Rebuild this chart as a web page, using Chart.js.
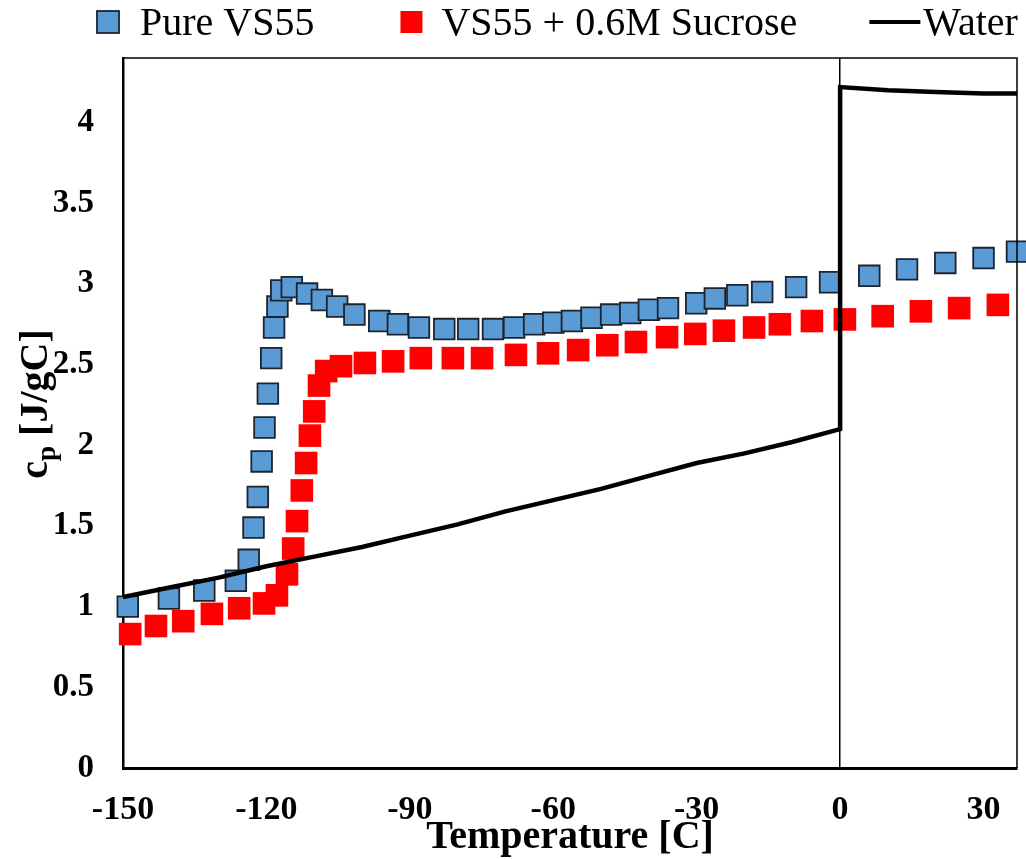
<!DOCTYPE html>
<html><head><meta charset="utf-8">
<script src="https://cdn.jsdelivr.net/npm/chart.js@4.4.0/dist/chart.umd.min.js"></script>
<style>html,body{margin:0;padding:0;background:#fff;}#wrap{width:1026px;height:859px;}</style>
</head><body><div id="wrap"><canvas id="c" width="1026" height="859"></canvas></div>
<script>
const seriesNames = ['Pure VS55', 'VS55 + 0.6M Sucrose', 'Water'];
const pureX = [-149,-140.4,-133,-126.4,-123.7,-122.7,-121.8,-121,-120.4,-119.7,-119,-118.4,-117.7,-116.9,-114.7,-111.5,-108.4,-105.2,-101.6,-96.4,-92.5,-88.1,-82.8,-77.8,-72.6,-68.2,-64,-60,-56.1,-52,-47.9,-43.9,-40,-36,-30.1,-26.2,-21.5,-16.3,-9.2,-2.1,6.1,14,22,30,37];
const pureY = [1.00,1.05,1.10,1.16,1.29,1.49,1.68,1.90,2.11,2.32,2.54,2.73,2.86,2.96,2.98,2.94,2.90,2.86,2.81,2.77,2.75,2.73,2.72,2.72,2.72,2.73,2.75,2.76,2.77,2.79,2.81,2.82,2.84,2.85,2.88,2.91,2.93,2.95,2.98,3.01,3.05,3.09,3.13,3.16,3.20];
const sucroseX = [-148.5,-143.1,-137.4,-131.4,-125.7,-120.5,-117.8,-115.7,-114.4,-113.6,-112.6,-111.7,-110.9,-110,-109,-107.5,-104.4,-99.4,-93.5,-87.7,-81,-74.9,-67.8,-61.1,-54.8,-48.7,-42.7,-36.2,-30.3,-24.3,-18,-12.6,-5.9,1,8.9,16.9,24.9,33];
const sucroseY = [0.83,0.88,0.91,0.955,0.99,1.02,1.07,1.20,1.36,1.53,1.72,1.89,2.06,2.21,2.37,2.46,2.49,2.51,2.52,2.54,2.54,2.54,2.56,2.57,2.59,2.62,2.64,2.67,2.69,2.71,2.73,2.75,2.77,2.78,2.80,2.83,2.85,2.87];
const waterX = [-150,-140,-130,-120,-110,-100,-90,-80,-70,-60,-50,-40,-30,-20,-10,0,0,10,20,30,37];
const waterY = [1.06,1.12,1.18,1.25,1.31,1.37,1.44,1.51,1.59,1.66,1.73,1.81,1.89,1.95,2.02,2.10,4.22,4.20,4.19,4.18,4.18];
const xTicks = [-150,-120,-90,-60,-30,0,30];
const yTicks = [0,0.5,1,1.5,2,2.5,3,3.5,4];
const xTitle = 'Temperature [C]';
const yTitleMain = 'c', yTitleSub = 'p', yTitleRest = ' [J/gC]';

const FAM = "'Liberation Serif', 'Times New Roman', serif";
const BLUE = '#5B9BD5', BLUE_EDGE = '#1c2430', RED = '#FF0000';

const toPts = (xs, ys) => xs.map((x, i) => ({x, y: ys[i]}));

const extras = {
  id: 'extras',
  afterDraw(chart) {
    const ctx = chart.ctx, a = chart.chartArea;
    ctx.save();
    ctx.strokeStyle = '#000'; ctx.lineWidth = 1.5;
    ctx.beginPath();
    ctx.moveTo(a.left, a.top); ctx.lineTo(a.right, a.top); ctx.lineTo(a.right, a.bottom);
    ctx.stroke();
    // y title with subscript
    ctx.translate(47, 404);
    ctx.rotate(-Math.PI / 2);
    ctx.fillStyle = '#000';
    ctx.textBaseline = 'alphabetic';
    const fMain = 'bold 40px ' + FAM, fSub = 'bold 27px ' + FAM;
    ctx.font = fMain; const w1 = ctx.measureText(yTitleMain).width; const w3 = ctx.measureText(yTitleRest).width;
    ctx.font = fSub; const w2 = ctx.measureText(yTitleSub).width;
    let u = -(w1 + w2 + w3) / 2;
    ctx.font = fMain; ctx.fillText(yTitleMain, u, 0); u += w1;
    ctx.font = fSub; ctx.fillText(yTitleSub, u, 8); u += w2;
    ctx.font = fMain; ctx.fillText(yTitleRest, u, 0);
    ctx.restore();
    // legend
    ctx.save();
    ctx.font = '40px ' + FAM;
    ctx.textBaseline = 'alphabetic';
    const ds = chart.data.datasets;
    const cy = 22, base = 35;
    let x = 97;
    ctx.fillStyle = ds[0].pointBackgroundColor;
    ctx.fillRect(x, cy - 11, 22, 22);
    ctx.strokeStyle = ds[0].pointBorderColor; ctx.lineWidth = 1.8;
    ctx.strokeRect(x, cy - 11, 22, 22);
    x += 22 + 21;
    ctx.fillStyle = '#000'; ctx.fillText(ds[0].label, x, base);
    x += ctx.measureText(ds[0].label).width + 86;
    ctx.fillStyle = ds[1].pointBackgroundColor;
    ctx.fillRect(x, cy - 11, 22, 22);
    x += 22 + 19;
    ctx.fillStyle = '#000'; ctx.fillText(ds[1].label, x, base);
    x += ctx.measureText(ds[1].label).width + 72;
    ctx.strokeStyle = ds[2].borderColor; ctx.lineWidth = 4;
    ctx.beginPath(); ctx.moveTo(x, cy); ctx.lineTo(x + 51, cy); ctx.stroke();
    x += 51 + 3;
    ctx.fillStyle = '#000'; ctx.fillText(ds[2].label, x, base);
    ctx.restore();
  }
};

new Chart(document.getElementById('c'), {
  type: 'scatter',
  data: {
    datasets: [
      {
        label: seriesNames[0], data: toPts(pureX, pureY), order: 2,
        pointStyle: 'rect', pointRadius: 14.6, pointBackgroundColor: BLUE,
        pointBorderColor: BLUE_EDGE, pointBorderWidth: 1.8, showLine: false, clip: false
      },
      {
        label: seriesNames[1], data: toPts(sucroseX, sucroseY), order: 1,
        pointStyle: 'rect', pointRadius: 16, pointBackgroundColor: RED,
        pointBorderColor: RED, pointBorderWidth: 0, showLine: false, clip: false
      },
      {
        label: seriesNames[2], data: toPts(waterX, waterY), order: 0,
        showLine: true, borderColor: '#000', borderWidth: 4.5, pointRadius: 0,
        tension: 0, fill: false
      }
    ]
  },
  options: {
    responsive: false, animation: false, events: [],
    layout: { autoPadding: false, padding: { top: 58, right: 9, bottom: 0, left: 0 } },
    plugins: { legend: { display: false }, tooltip: { enabled: false } },
    scales: {
      x: {
        type: 'linear', min: -150, max: 37,
        afterBuildTicks: s => { s.ticks = xTicks.map(v => ({value: v})); },
        afterFit: s => { s.height = 91; s.paddingRight = 0; s.paddingLeft = 0; },
        border: { display: true, color: '#000', width: 3 },
        grid: {
          drawTicks: false,
          color: c => (c.tick && c.tick.value === 0) ? '#000' : 'rgba(0,0,0,0)',
          lineWidth: 1.5
        },
        ticks: {
          padding: 25, color: '#000', maxRotation: 0,
          font: { family: FAM, size: 34, weight: 'bold', lineHeight: 1 },
          callback: v => String(v)
        },
        title: {
          display: true, text: xTitle, color: '#000',
          font: { family: FAM, size: 40, weight: 'bold', lineHeight: 1 },
          padding: { top: 0, bottom: 1 }
        }
      },
      y: {
        type: 'linear', min: 0, max: 4.4,
        afterBuildTicks: s => { s.ticks = yTicks.map(v => ({value: v})); },
        afterFit: s => { s.width = 123; s.paddingTop = 0; s.paddingBottom = 0; },
        border: { display: true, color: '#000', width: 2.5 },
        grid: { display: false, drawTicks: false },
        ticks: {
          padding: 29, color: '#000',
          font: { family: FAM, size: 33, weight: 'bold', lineHeight: 1 },
          callback: v => String(v)
        },
        title: { display: false }
      }
    }
  },
  plugins: [extras]
});
</script>
</body></html>
